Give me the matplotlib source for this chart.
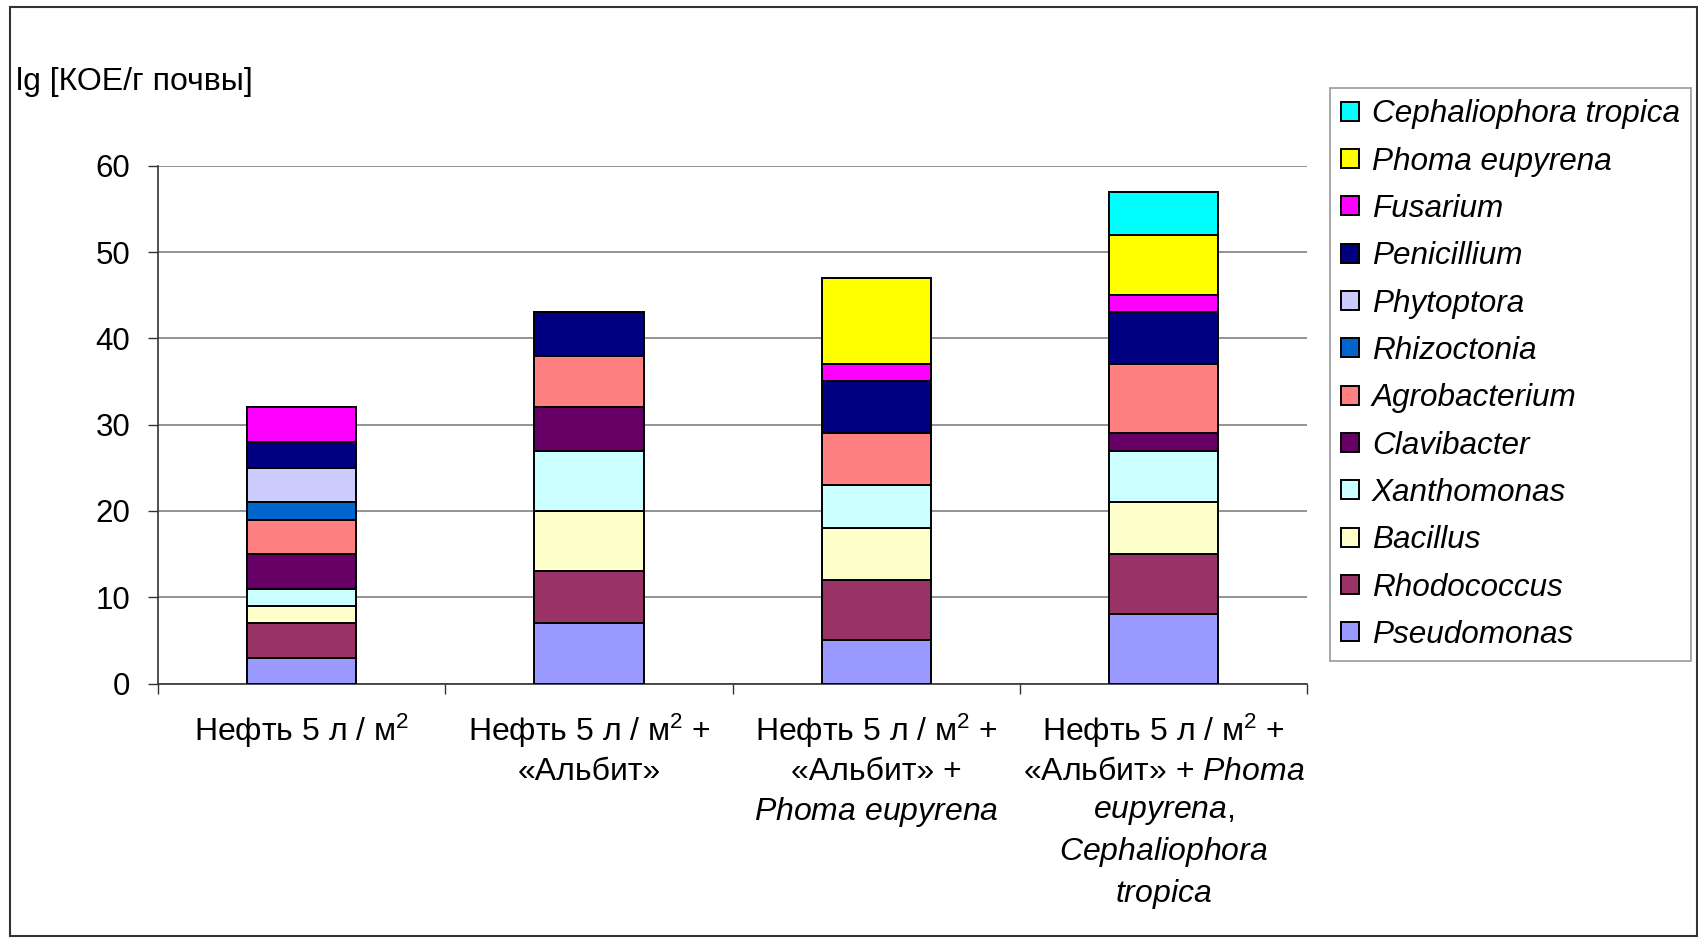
import numpy as np
import matplotlib
matplotlib.use('Agg')
import matplotlib.pyplot as plt
from matplotlib.patches import Rectangle

plt.rcParams['font.family'] = ['Liberation Sans', 'DejaVu Sans']
plt.rcParams['mathtext.fontset'] = 'custom'
plt.rcParams['mathtext.rm'] = 'Liberation Sans'
plt.rcParams['mathtext.it'] = 'Liberation Sans:italic'

# варианты опыта
categories = [
    'Нефть 5 л / м$^2$',
    'Нефть 5 л / м$^2$ +\n«Альбит»',
    'Нефть 5 л / м$^2$ +\n«Альбит» +\n$\\mathit{Phoma\\ eupyrena}$',
    'Нефть 5 л / м$^2$ +\n«Альбит» + $\\mathit{Phoma}$\n$\\mathit{eupyrena,}$\n'
    '$\\mathit{Cephaliophora}$\n$\\mathit{tropica}$',
]

# группы микроорганизмов (снизу вверх)
species = ['Pseudomonas', 'Rhodococcus', 'Bacillus', 'Xanthomonas', 'Clavibacter',
           'Agrobacterium', 'Rhizoctonia', 'Phytoptora', 'Penicillium', 'Fusarium',
           'Phoma eupyrena', 'Cephaliophora tropica']

pseudomonas = [3, 7, 5, 8]
rhodococcus = [4, 6, 7, 7]
bacillus = [2, 7, 6, 6]
xanthomonas = [2, 7, 5, 6]
clavibacter = [4, 5, 0, 2]
agrobacterium = [4, 6, 6, 8]
rhizoctonia = [2, 0, 0, 0]
phytoptora = [4, 0, 0, 0]
penicillium = [3, 5, 6, 6]
fusarium = [4, 0, 2, 2]
phoma = [0, 0, 10, 7]
cephaliophora = [0, 0, 0, 5]

series = [pseudomonas, rhodococcus, bacillus, xanthomonas, clavibacter, agrobacterium,
          rhizoctonia, phytoptora, penicillium, fusarium, phoma, cephaliophora]
colors = ['#9999FF', '#993366', '#FFFFCC', '#CCFFFF', '#660066', '#FF8080',
          '#0066CC', '#CCCCFF', '#000080', '#FF00FF', '#FFFF00', '#00FFFF']

fig = plt.figure(figsize=(16.98, 9.38), dpi=100)
ax = fig.add_axes([0.093, 0.2713, 0.677, 0.552])

x = np.arange(len(categories))
bottom = np.zeros(len(categories))
handles = []
for vals, name, col in zip(series, species, colors):
    vals = np.array(vals, dtype=float)
    b = ax.bar(x, vals, 0.38, bottom=bottom, color=col, edgecolor='black',
               linewidth=1.4, label=name, zorder=3)
    handles.append(b)
    bottom += vals

ax.set_xlim(-0.5, len(categories) - 0.5)
ax.set_ylim(0, 60)
ax.set_yticks(range(0, 61, 10))
ax.yaxis.grid(True, color='#808080', linewidth=1.2)
ax.set_axisbelow(True)

ax.set_xticks(x)
ax.set_xticklabels(categories, fontsize=23, va='top', ha='center', linespacing=1.33)
ax.set_xticks(np.arange(-0.5, len(categories)), minor=True)
ax.tick_params(axis='x', which='major', length=0, pad=20)
ax.tick_params(axis='x', which='minor', length=7, width=1, color='#333333')
ax.tick_params(axis='y', length=7, width=1, color='#333333', pad=13, labelsize=22.5)

for s in ['top', 'right']:
    ax.spines[s].set_visible(False)
for s in ['left', 'bottom']:
    ax.spines[s].set_color('#333333')
    ax.spines[s].set_linewidth(1.2)

fig.text(0.0094, 1 - 90 / 938, 'lg [КОЕ/г почвы]', fontsize=23, va='baseline', ha='left')

leg = fig.legend(handles[::-1], species[::-1], loc='upper left',
                 bbox_to_anchor=(1330 / 1698, 1 - 88 / 938),
                 prop={'style': 'italic', 'size': 22.7},
                 frameon=True, fancybox=False, edgecolor='#808080',
                 handlelength=0.55, handleheight=0.55, handletextpad=0.42,
                 labelspacing=0.55, borderpad=0.36, borderaxespad=0)
leg.get_frame().set_linewidth(1.2)

fig.add_artist(Rectangle((10 / 1698, 2 / 938), 1687 / 1698, 929 / 938,
                         transform=fig.transFigure, fill=False,
                         edgecolor='#333333', linewidth=1.5))

fig.savefig('out.png', dpi=100)
